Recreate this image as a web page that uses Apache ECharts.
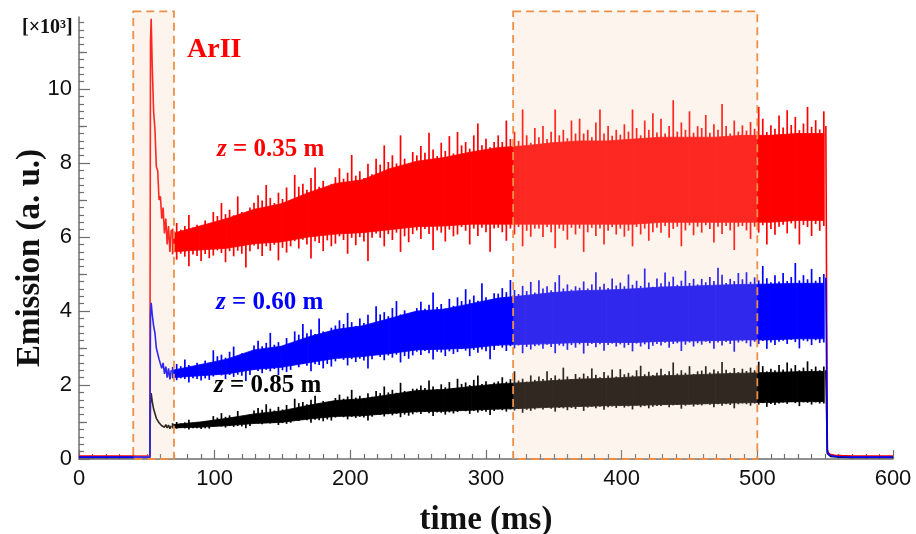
<!DOCTYPE html>
<html>
<head>
<meta charset="utf-8">
<script src="https://cdn.jsdelivr.net/npm/echarts@6/dist/echarts.min.js"></script>
<style>
  html, body { margin: 0; padding: 0; background: #ffffff; }
  #chart { width: 916px; height: 534px; }
</style>
</head>
<body>
<div id="chart"></div>
<script>
// ---- Axis settings ----
const X_MIN = 0, X_MAX = 600, X_STEP = 100;
const Y_MIN = 0, Y_MAX = 11.95;
const Y_MAJOR_TICKS = [0, 2, 4, 6, 8, 10];
const Y_MID_TICKS = [1, 3, 5, 7, 9, 11];

// ---- Shaded time windows (ms) ----
const SHADE_START = [40, 320];
const SHADE_END = [70, 500];
const SHADE_TOP = 12.1;

// ---- Baseline before the discharge ----
const BASE_T = [0, 52.2];
const RED_BASE = [0.08, 0.08];
const BLUE_BASE = [0.05, 0.05];
const BLACK_BASE = [0.04, 0.04];

// ---- Start-up transient (ms) ----
const ONSET_T = [52.2, 52.7, 53.2, 54, 55, 56, 57, 58, 59, 60, 61, 62, 63, 64, 65, 66, 67, 68];
const RED_ONSET = [0.08, 11.3, 11.9, 10.6, 9.4, 8.9, 7.9, 7.8, 7.0, 7.1, 6.5, 6.8, 6.1, 6.5, 5.8, 6.3, 5.6, 6.2];
const BLUE_ONSET = [0.05, 3.9, 4.22, 3.9, 3.6, 3.4, 3.0, 3.0, 2.7, 2.75, 2.45, 2.6, 2.3, 2.5, 2.2, 2.45, 2.15, 2.4];
const BLACK_ONSET = [0.04, 1.5, 1.78, 1.55, 1.35, 1.3, 1.1, 1.08, 0.98, 1.0, 0.9, 0.95, 0.86, 0.93, 0.84, 0.92, 0.82, 0.9];

// ---- Fluctuations on the plateau: low / high excursion every 3 ms from 69 ms ----
const NOISE_START = 69, NOISE_STEP = 3;
const RED_HI = [
  6.23, 6.38, 6.2, 6.3, 6.6, 6.25, 6.33, 6.21, 6.45, 6.28,
  6.68, 6.57, 6.92, 6.62, 6.74, 6.59, 7.1, 6.68, 6.56, 6.8,
  6.93, 7.13, 6.99, 7.41, 7.06, 6.92, 7.2, 7.03, 7.34, 6.98,
  7.68, 7.36, 7.44, 7.28, 7.6, 7.88, 7.36, 7.52, 7.31, 7.44,
  7.62, 7.86, 7.58, 7.74, 8.22, 7.66, 7.78, 7.6, 7.98, 7.7,
  8.12, 7.96, 8.48, 8.03, 8.21, 7.99, 8.75, 8.12, 7.94, 8.3,
  8.21, 8.46, 8.28, 8.82, 8.37, 8.19, 8.55, 8.33, 8.73, 8.26,
  8.84, 8.48, 8.57, 8.39, 8.75, 9.07, 8.48, 8.66, 8.43, 8.57,
  8.75, 8.57, 9.15, 8.65, 8.85, 8.6, 9.45, 8.75, 8.55, 8.95,
  8.7, 9.0, 8.65, 8.85, 9.45, 8.75, 8.9, 8.67, 9.15, 8.8,
  9.2, 8.8, 8.9, 8.7, 9.1, 9.45, 8.8, 9.0, 8.74, 8.9,
  8.77, 9.05, 8.85, 9.45, 8.95, 8.75, 9.15, 8.9, 9.35, 8.83,
  9.2, 8.8, 9.0, 9.7, 8.85, 9.1, 8.9, 9.4, 8.82, 9.0,
  8.95, 9.3, 8.82, 9.05, 8.9, 9.6, 9.0, 8.8, 9.15, 8.85,
  9.02, 8.88, 9.11, 8.93, 9.52, 9.2, 8.84, 9.02, 8.93, 9.29,
  8.96, 9.43, 9.03, 9.25, 8.89, 9.07, 9.52, 8.98, 9.16, 8.91,
  9.4
];
const RED_LO = [
  5.53, 5.39, 5.55, 5.47, 5.21, 5.53, 5.49, 5.35, 5.54, 5.43,
  5.5, 5.64, 5.57, 5.32, 5.62, 5.48, 5.63, 5.55, 5.18, 5.62,
  5.77, 5.67, 5.49, 5.75, 5.63, 5.79, 5.37, 5.71, 5.58, 5.75,
  5.89, 5.69, 5.93, 5.8, 5.42, 5.89, 5.84, 5.62, 5.91, 5.75,
  5.82, 6.02, 5.92, 5.55, 5.98, 5.78, 6.0, 5.88, 5.35, 5.98,
  6.1, 5.98, 5.75, 6.08, 5.92, 6.12, 5.6, 6.02, 5.86, 6.08,
  6.18, 5.95, 6.22, 6.08, 5.65, 6.18, 6.12, 5.88, 6.2, 6.02,
  6.07, 6.27, 6.17, 5.8, 6.23, 6.03, 6.25, 6.13, 5.6, 6.23,
  6.25, 6.13, 5.9, 6.23, 6.07, 6.27, 5.75, 6.17, 6.01, 6.23,
  6.23, 6.0, 6.27, 6.13, 5.7, 6.23, 6.17, 5.93, 6.25, 6.07,
  6.23, 5.6, 6.13, 6.25, 6.03, 6.23, 5.8, 6.17, 6.27, 6.07,
  6.23, 6.01, 6.17, 5.75, 6.27, 6.07, 6.23, 5.9, 6.13, 6.25,
  6.12, 6.3, 5.98, 6.22, 6.28, 5.75, 6.18, 6.32, 6.05, 6.28,
  6.12, 6.32, 6.22, 5.85, 6.28, 6.08, 6.3, 6.18, 5.65, 6.28,
  6.3, 6.18, 5.95, 6.28, 6.12, 6.32, 5.8, 6.22, 6.06, 6.28,
  6.33, 6.1, 6.37, 6.23, 5.8, 6.33, 6.27, 6.03, 6.35, 6.17,
  6.3
];
const BLUE_HI = [
  2.49, 2.57, 2.51, 2.69, 2.54, 2.48, 2.6, 2.53, 2.66, 2.5,
  2.94, 2.78, 2.82, 2.74, 2.9, 3.04, 2.78, 2.86, 2.76, 2.82,
  3.07, 3.2, 3.05, 3.14, 3.41, 3.09, 3.16, 3.05, 3.27, 3.11,
  3.45, 3.36, 3.65, 3.4, 3.5, 3.38, 3.8, 3.45, 3.35, 3.55,
  3.61, 3.75, 3.65, 3.95, 3.7, 3.6, 3.8, 3.68, 3.9, 3.64,
  4.13, 3.91, 3.97, 3.86, 4.08, 4.27, 3.91, 4.02, 3.88, 3.97,
  4.08, 4.25, 4.06, 4.17, 4.5, 4.11, 4.19, 4.07, 4.33, 4.14,
  4.37, 4.27, 4.59, 4.31, 4.42, 4.28, 4.75, 4.37, 4.26, 4.48,
  4.47, 4.62, 4.51, 4.84, 4.57, 4.46, 4.68, 4.54, 4.79, 4.5,
  4.83, 4.61, 4.67, 4.56, 4.78, 4.97, 4.61, 4.72, 4.58, 4.67,
  4.63, 4.8, 4.61, 4.72, 5.05, 4.66, 4.74, 4.62, 4.88, 4.69,
  4.77, 4.67, 4.99, 4.71, 4.82, 4.68, 5.15, 4.77, 4.66, 4.88,
  4.75, 5.04, 4.79, 4.93, 4.71, 4.82, 5.09, 4.76, 4.87, 4.72,
  4.87, 4.78, 4.92, 4.81, 5.17, 4.98, 4.76, 4.87, 4.81, 5.03,
  4.86, 5.05, 4.79, 4.91, 4.83, 5.22, 4.89, 4.78, 4.97, 4.8,
  5.03, 4.81, 4.92, 5.3, 4.83, 4.97, 4.86, 5.14, 4.82, 4.92,
  5.0
];
const BLUE_LO = [
  2.18, 2.13, 2.18, 2.16, 2.07, 2.18, 2.16, 2.12, 2.18, 2.14,
  2.23, 2.28, 2.26, 2.16, 2.27, 2.22, 2.28, 2.25, 2.11, 2.27,
  2.42, 2.38, 2.32, 2.41, 2.37, 2.43, 2.27, 2.4, 2.35, 2.41,
  2.56, 2.48, 2.57, 2.52, 2.37, 2.56, 2.54, 2.45, 2.57, 2.5,
  2.64, 2.72, 2.68, 2.53, 2.7, 2.62, 2.71, 2.66, 2.45, 2.7,
  2.81, 2.76, 2.67, 2.8, 2.74, 2.82, 2.61, 2.78, 2.71, 2.8,
  2.9, 2.81, 2.92, 2.86, 2.69, 2.9, 2.88, 2.78, 2.91, 2.84,
  2.89, 2.97, 2.93, 2.78, 2.95, 2.87, 2.96, 2.91, 2.7, 2.95,
  3.06, 3.01, 2.92, 3.05, 2.99, 3.07, 2.86, 3.03, 2.96, 3.05,
  3.07, 2.98, 3.09, 3.03, 2.86, 3.07, 3.05, 2.95, 3.08, 3.01,
  3.1, 2.85, 3.06, 3.11, 3.02, 3.1, 2.93, 3.08, 3.12, 3.04,
  3.1, 3.01, 3.08, 2.91, 3.12, 3.04, 3.1, 2.97, 3.06, 3.11,
  3.07, 3.14, 3.01, 3.11, 3.13, 2.92, 3.09, 3.15, 3.04, 3.13,
  3.09, 3.17, 3.13, 2.98, 3.15, 3.07, 3.16, 3.11, 2.9, 3.15,
  3.18, 3.13, 3.04, 3.17, 3.11, 3.19, 2.98, 3.15, 3.08, 3.17,
  3.2, 3.11, 3.22, 3.16, 2.99, 3.2, 3.18, 3.08, 3.21, 3.14,
  3.15
];
const BLACK_HI = [
  0.97, 1.0, 0.96, 0.99, 1.06, 0.97, 0.99, 0.96, 1.02, 0.98,
  1.16, 1.12, 1.24, 1.14, 1.18, 1.13, 1.3, 1.16, 1.12, 1.2,
  1.31, 1.38, 1.33, 1.48, 1.36, 1.31, 1.41, 1.34, 1.46, 1.33,
  1.63, 1.51, 1.54, 1.48, 1.6, 1.71, 1.51, 1.57, 1.49, 1.54,
  1.65, 1.74, 1.63, 1.69, 1.87, 1.66, 1.71, 1.64, 1.78, 1.68,
  1.84, 1.78, 1.96, 1.8, 1.87, 1.79, 2.06, 1.84, 1.77, 1.9,
  1.9, 1.99, 1.92, 2.12, 1.96, 1.89, 2.02, 1.94, 2.08, 1.92,
  2.17, 2.03, 2.07, 2.0, 2.14, 2.26, 2.03, 2.1, 2.01, 2.07,
  2.1, 2.21, 2.09, 2.16, 2.37, 2.12, 2.17, 2.09, 2.26, 2.14,
  2.23, 2.16, 2.37, 2.19, 2.26, 2.17, 2.47, 2.23, 2.16, 2.3,
  2.21, 2.31, 2.24, 2.45, 2.28, 2.21, 2.35, 2.26, 2.42, 2.23,
  2.43, 2.29, 2.33, 2.26, 2.4, 2.52, 2.29, 2.36, 2.27, 2.33,
  2.44, 2.3, 2.37, 2.61, 2.31, 2.4, 2.33, 2.51, 2.3, 2.37,
  2.39, 2.51, 2.34, 2.42, 2.37, 2.62, 2.41, 2.34, 2.46, 2.35,
  2.44, 2.38, 2.47, 2.4, 2.63, 2.51, 2.37, 2.44, 2.4, 2.54,
  2.42, 2.61, 2.45, 2.54, 2.4, 2.47, 2.64, 2.43, 2.5, 2.4,
  2.5
];
const BLACK_LO = [
  0.83, 0.82, 0.84, 0.83, 0.8, 0.83, 0.83, 0.81, 0.83, 0.82,
  0.87, 0.89, 0.88, 0.85, 0.89, 0.87, 0.89, 0.88, 0.83, 0.89,
  0.98, 0.96, 0.94, 0.98, 0.96, 0.98, 0.92, 0.97, 0.95, 0.98,
  1.06, 1.03, 1.07, 1.05, 0.98, 1.06, 1.05, 1.02, 1.07, 1.04,
  1.12, 1.15, 1.13, 1.07, 1.14, 1.11, 1.14, 1.12, 1.04, 1.14,
  1.21, 1.19, 1.15, 1.21, 1.18, 1.22, 1.13, 1.2, 1.17, 1.21,
  1.26, 1.22, 1.27, 1.24, 1.16, 1.26, 1.25, 1.2, 1.26, 1.23,
  1.27, 1.31, 1.29, 1.22, 1.3, 1.26, 1.3, 1.28, 1.19, 1.3,
  1.34, 1.32, 1.28, 1.34, 1.31, 1.35, 1.25, 1.33, 1.3, 1.34,
  1.38, 1.34, 1.39, 1.36, 1.28, 1.38, 1.37, 1.32, 1.38, 1.35,
  1.41, 1.3, 1.39, 1.41, 1.37, 1.41, 1.33, 1.4, 1.42, 1.38,
  1.43, 1.39, 1.42, 1.34, 1.44, 1.4, 1.43, 1.37, 1.41, 1.43,
  1.43, 1.46, 1.4, 1.45, 1.46, 1.36, 1.44, 1.47, 1.42, 1.46,
  1.45, 1.49, 1.47, 1.4, 1.48, 1.44, 1.48, 1.46, 1.37, 1.48,
  1.5, 1.48, 1.44, 1.5, 1.47, 1.51, 1.41, 1.49, 1.46, 1.5,
  1.53, 1.49, 1.54, 1.51, 1.43, 1.53, 1.52, 1.47, 1.53, 1.5,
  1.5
];

// ---- Dense core of each band, every 20 ms from 69 ms ----
const CORE_START = 69, CORE_STEP = 20;
const RED_CORE_LO = [5.6, 5.65, 5.7, 5.82, 5.87, 6.0, 6.08, 6.12, 6.2, 6.28, 6.3, 6.35, 6.35, 6.35, 6.35, 6.35, 6.35, 6.35, 6.4, 6.4, 6.4, 6.4, 6.4, 6.45, 6.45];
const RED_CORE_HI = [6.1, 6.3, 6.5, 6.75, 6.9, 7.2, 7.45, 7.55, 7.85, 8.05, 8.15, 8.3, 8.42, 8.47, 8.55, 8.6, 8.6, 8.65, 8.7, 8.7, 8.7, 8.75, 8.75, 8.8, 8.8];
const BLUE_CORE_LO = [2.2, 2.25, 2.3, 2.42, 2.48, 2.6, 2.72, 2.77, 2.85, 2.95, 2.97, 3.0, 3.08, 3.1, 3.12, 3.15, 3.15, 3.15, 3.18, 3.19, 3.2, 3.22, 3.22, 3.25, 3.25];
const BLUE_CORE_HI = [2.4, 2.55, 2.7, 2.95, 3.05, 3.3, 3.5, 3.6, 3.8, 4.0, 4.05, 4.2, 4.35, 4.42, 4.5, 4.55, 4.57, 4.6, 4.65, 4.67, 4.7, 4.72, 4.73, 4.75, 4.75];
const BLACK_CORE_LO = [0.84, 0.86, 0.9, 0.96, 0.99, 1.08, 1.15, 1.17, 1.23, 1.28, 1.29, 1.32, 1.35, 1.37, 1.4, 1.42, 1.44, 1.45, 1.47, 1.48, 1.5, 1.52, 1.53, 1.55, 1.55];
const BLACK_CORE_HI = [0.93, 1.0, 1.1, 1.22, 1.3, 1.45, 1.58, 1.63, 1.74, 1.85, 1.88, 1.96, 2.03, 2.07, 2.12, 2.16, 2.18, 2.22, 2.25, 2.27, 2.3, 2.32, 2.34, 2.36, 2.37];

// ---- Shut-off and afterglow ----
const OFF_T = [550.5, 551.6, 552.5, 554, 557, 562, 570, 585, 600];
const RED_OFF = [9.0, 0.25, 0.16, 0.12, 0.1, 0.09, 0.08, 0.08, 0.08];
const BLUE_OFF = [4.9, 0.2, 0.13, 0.09, 0.07, 0.06, 0.05, 0.05, 0.05];
const BLACK_OFF = [2.4, 0.15, 0.1, 0.07, 0.06, 0.05, 0.04, 0.04, 0.04];

const RED = '#ff0000', BLUE = '#0000ff', BLACK = '#000000';
const AXIS_GREY = '#6e6e6e';

function pairs(ts, vs) { return ts.map((t, i) => [t, vs[i]]); }

function lineSeries(name, data, color) {
  return { type: 'line', name: name, data: data, symbol: 'none', silent: true,
    lineStyle: { color: color, width: 1.6 }, z: 3 };
}

// Solid core of a band: one quadrilateral between consecutive samples.
function coreSeries(name, lo, hi, color) {
  return {
    type: 'custom', name: name, silent: true, z: 2,
    encode: { x: 0, y: [1, 2] },
    data: lo.map((v, i) => [CORE_START + i * CORE_STEP, v, hi[i]]),
    renderItem: function (params, api) {
      const i = params.dataIndexInside;
      if (i >= params.dataInsideLength - 1) return null;
      const a0 = api.coord([api.value(0, i), api.value(1, i)]);
      const a1 = api.coord([api.value(0, i + 1), api.value(1, i + 1)]);
      const b1 = api.coord([api.value(0, i + 1), api.value(2, i + 1)]);
      const b0 = api.coord([api.value(0, i), api.value(2, i)]);
      return {
        type: 'polygon',
        shape: { points: [a0, a1, b1, b0] },
        style: { fill: color, stroke: color, lineWidth: 0.8 }
      };
    }
  };
}

// Fluctuation range at each sample, drawn as a vertical stroke from low to high.
function rangeSeries(name, lo, hi, color) {
  return {
    type: 'custom', name: name, silent: true, z: 3,
    encode: { x: 0, y: [1, 2] },
    data: lo.map((v, i) => [NOISE_START + i * NOISE_STEP, v, hi[i]]),
    renderItem: function (params, api) {
      const a = api.coord([api.value(0), api.value(1)]);
      const b = api.coord([api.value(0), api.value(2)]);
      return {
        type: 'line',
        shape: { x1: a[0], y1: a[1], x2: b[0], y2: b[1] },
        style: { stroke: color, lineWidth: 1.7 }
      };
    }
  };
}

function channel(tag, color, base, onset, coreLo, coreHi, lo, hi, off) {
  return [
    lineSeries(tag, pairs(BASE_T, base).concat(pairs(ONSET_T, onset)), color),
    coreSeries(tag + ' core', coreLo, coreHi, color),
    rangeSeries(tag + ' range', lo, hi, color),
    lineSeries(tag + ' off', pairs(OFF_T, off), color)
  ];
}

const chart = echarts.init(document.getElementById('chart'), null, { renderer: 'canvas' });

const serifBold = 'bold {size}px "Liberation Serif", "Times New Roman", serif';

function zLabel(text, color) {
  return {
    text: '{i|z}{n| = ' + text + ' m}',
    rich: {
      i: { fontStyle: 'italic', fontWeight: 'bold', fontSize: 25, fontFamily: '"Liberation Serif", serif', fill: color },
      n: { fontWeight: 'bold', fontSize: 25, fontFamily: '"Liberation Serif", serif', fill: color }
    }
  };
}

const option = {
  animation: false,
  backgroundColor: '#ffffff',
  grid: { left: 79, right: 23, top: 17, bottom: 75, containLabel: false },
  xAxis: {
    type: 'value', min: X_MIN, max: X_MAX, interval: X_STEP,
    axisLine: { show: true, lineStyle: { color: AXIS_GREY, width: 1.5 } },
    axisTick: { show: true, inside: true, length: 9, lineStyle: { color: AXIS_GREY, width: 1.2 } },
    minorTick: { show: true, splitNumber: 10, length: 5, lineStyle: { color: AXIS_GREY, width: 1.2 } },
    splitLine: { show: false },
    axisLabel: { color: '#111', fontSize: 22, fontFamily: '"Liberation Sans", Arial, sans-serif', margin: 9 }
  },
  yAxis: [
    {
      type: 'value', min: Y_MIN, max: Y_MAX, interval: 2,
      axisLine: { show: true, lineStyle: { color: AXIS_GREY, width: 1.5 } },
      axisTick: { show: true, inside: true, length: 11, customValues: Y_MAJOR_TICKS,
        lineStyle: { color: AXIS_GREY, width: 1.2 } },
      minorTick: { show: true, splitNumber: 10, length: 5, lineStyle: { color: AXIS_GREY, width: 1.2 } },
      splitLine: { show: false },
      axisLabel: { color: '#111', fontSize: 22, fontFamily: '"Liberation Sans", Arial, sans-serif',
        margin: 7, customValues: Y_MAJOR_TICKS }
    },
    {
      type: 'value', min: Y_MIN, max: Y_MAX, position: 'left',
      axisLine: { show: false },
      axisTick: { show: true, inside: true, length: 8, customValues: Y_MID_TICKS,
        lineStyle: { color: AXIS_GREY, width: 1.2 } },
      axisLabel: { show: false },
      splitLine: { show: false }
    }
  ],
  graphic: [
    { type: 'text', left: 22, top: 18, silent: true,
      style: { text: '[×10³]', font: serifBold.replace('{size}', 20), fill: '#111' } },
    { type: 'text', left: 187, top: 36, silent: true,
      style: { text: 'ArII', font: serifBold.replace('{size}', 28), fill: RED } },
    { type: 'text', left: 217, top: 137, silent: true, style: zLabel('0.35', RED) },
    { type: 'text', left: 216, top: 290, silent: true, style: zLabel('0.60', BLUE) },
    { type: 'text', left: 214, top: 373, silent: true, style: zLabel('0.85', BLACK) },
    { type: 'text', x: 486, y: 520, silent: true,
      style: { text: 'time (ms)', font: serifBold.replace('{size}', 33), fill: '#111',
        textAlign: 'center', textVerticalAlign: 'middle' } },
    { type: 'text', x: 30, y: 258, rotation: Math.PI / 2, silent: true,
      style: { text: 'Emission (a. u.)', font: serifBold.replace('{size}', 33), fill: '#111',
        textAlign: 'center', textVerticalAlign: 'middle' } }
  ],
  series: [
    ...channel('z=0.35', RED, RED_BASE, RED_ONSET, RED_CORE_LO, RED_CORE_HI, RED_LO, RED_HI, RED_OFF),
    ...channel('z=0.85', BLACK, BLACK_BASE, BLACK_ONSET, BLACK_CORE_LO, BLACK_CORE_HI, BLACK_LO, BLACK_HI, BLACK_OFF),
    ...channel('z=0.60', BLUE, BLUE_BASE, BLUE_ONSET, BLUE_CORE_LO, BLUE_CORE_HI, BLUE_LO, BLUE_HI, BLUE_OFF),
    {
      type: 'custom', name: 'windows', clip: false, silent: true, z: 10,
      data: SHADE_START.map((s, i) => [s, SHADE_END[i], SHADE_TOP]),
      renderItem: function (params, api) {
        const p0 = api.coord([api.value(0), 0]);
        const p1 = api.coord([api.value(1), api.value(2)]);
        return {
          type: 'rect',
          shape: { x: p0[0], y: p1[1], width: p1[0] - p0[0], height: p0[1] - p1[1] },
          style: { fill: 'rgba(245,200,165,0.2)', stroke: '#ee8f48', lineWidth: 1.8, lineDash: [8, 5] }
        };
      }
    }
  ]
};

chart.setOption(option);
</script>
</body>
</html>
